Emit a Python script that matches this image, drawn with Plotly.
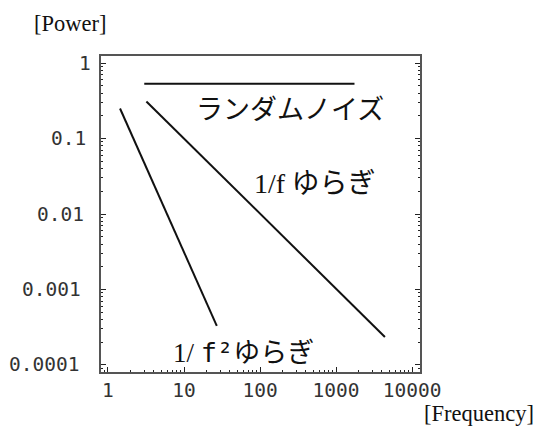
import math
import plotly.graph_objects as go

# Spectral power of three kinds of fluctuation (log-log)
freq_white = [3.0, 1750]
power_white = [0.53, 0.53]

freq_pink = [3.2, 4400]
power_pink = [0.31, 0.000235]

freq_brown = [1.44, 27]
power_brown = [0.25, 0.00033]

x_ticks = [1, 10, 100, 1000, 10000]
x_ticktext = ["1", "10", "100", "1000", "10000"]
y_ticks = [1, 0.1, 0.01, 0.001, 0.0001]
y_ticktext = ["1", "0.1", "0.01", "0.001", "0.0001"]

label_white = "ランダムノイズ"

W, H = 537, 436
L, R, T, B = 101, 117, 56, 64
pw, ph = W - L - R, H - T - B


def px(x):
    return (x - L) / pw


def py(y):
    return 1 - (y - T) / ph


def minor_vals(lo, hi):
    vals = []
    for e in range(lo, hi):
        for k in range(2, 10):
            vals.append(k * 10.0 ** e)
    return vals


TICK_FONT = dict(family="DejaVu Sans Mono", size=19.5, color="#333")
SERIF = "Liberation Serif, Times New Roman, serif"
MONO = "DejaVu Sans Mono"
CJK = "Noto Sans CJK JP"
INK = "#111"

fig = go.Figure()
for fx, fy in [(freq_white, power_white), (freq_pink, power_pink), (freq_brown, power_brown)]:
    fig.add_trace(go.Scatter(x=fx, y=fy, mode="lines",
                             line=dict(color=INK, width=2), showlegend=False,
                             hoverinfo="skip"))

axis_common = dict(
    type="log", showgrid=False, zeroline=False,
    showline=True, linecolor="#555", linewidth=1.5,
    ticks="inside", ticklen=5, tickcolor="#222", tickwidth=1,
)

fig.update_xaxes(
    **axis_common, range=[-0.092, 4.105], mirror=True,
    tickvals=x_ticks, ticktext=x_ticktext, tickfont=TICK_FONT,
    minor=dict(tickvals=minor_vals(-1, 5), ticks="inside", ticklen=2.5,
               tickcolor="#222", showgrid=False),
)
fig.update_yaxes(
    **axis_common, range=[-4.093, 0.093], mirror="allticks",
    tickvals=y_ticks, showticklabels=False,
    minor=dict(tickvals=minor_vals(-5, 1), ticks="inside", ticklen=2.5,
               tickcolor="#222", showgrid=False),
)

annotations = []
# y tick labels, each drawn beside its decade
for v, t in zip(y_ticks, y_ticktext):
    annotations.append(dict(
        xref="paper", yref="y", x=0, y=math.log10(v),
        text=t, showarrow=False, xanchor="right", yanchor="middle",
        xshift=-(8 + 2.45 * (len(t) - 1)), font=TICK_FONT,
    ))


def note(x, y, text, font, xanchor="center"):
    return dict(xref="paper", yref="paper", x=px(x), y=py(y), text=text,
                showarrow=False, xanchor=xanchor, yanchor="middle", font=font)


annotations += [
    note(70, 24, "[Power]", dict(family=SERIF, size=22.5, color=INK)),
    note(536, 413, "[Frequency]", dict(family=SERIF, size=22.5, color=INK), xanchor="right"),
    note(290, 107, label_white, dict(family=CJK, size=27, color=INK)),
    note(314, 181, f'<span style="font-family:{SERIF}">1/f</span> ゆらぎ',
         dict(family=CJK, size=28, color=INK)),
    note(243, 350,
         (f'<span style="font-family:{SERIF}">1/ </span>'
          f'<span style="font-family:{MONO}">f²</span>ゆらぎ'),
         dict(family=CJK, size=27, color=INK)),
]

fig.update_layout(
    width=W, height=H,
    margin=dict(l=L, r=R, t=T, b=B),
    paper_bgcolor="white", plot_bgcolor="white",
    annotations=annotations,
)

fig.write_html("out.html")
